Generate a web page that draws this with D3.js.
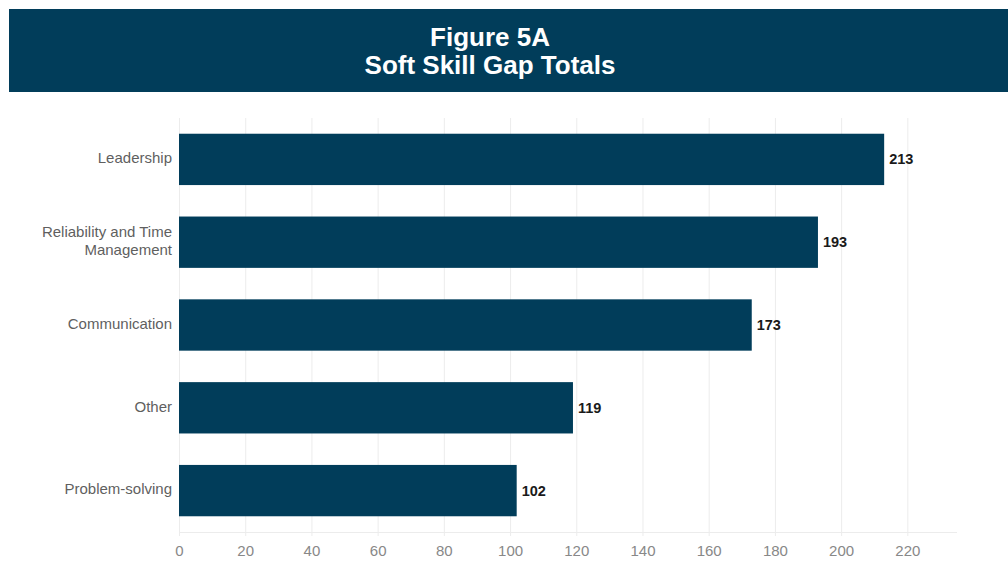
<!DOCTYPE html>
<html>
<head>
<meta charset="utf-8">
<script src="https://cdn.jsdelivr.net/npm/d3@7"></script>
<style>
  body { margin: 0; background: #fff; }
  svg { display: block; font-family: "Liberation Sans", Arial, sans-serif; }
</style>
</head>
<body>
<svg id="drawing_region"></svg>
<script>
// data
const categories = ['Leadership', 'Reliability and Time Management', 'Communication', 'Other', 'Problem-solving'];
const values = [213, 193, 173, 119, 102];
const xTicks = [0, 20, 40, 60, 80, 100, 120, 140, 160, 180, 200, 220];
const titleLines = ['Figure 5A', 'Soft Skill Gap Totals'];

// two-line label split (as wrapped in the original)
const labelLines = {
    'Reliability and Time Management': ['Reliability and Time', 'Management']
};

const data = categories.map((c, i) => ({ label: c, value: values[i] }));

const width = 1008, height = 561;
const margin = { top: 118, right: 51, bottom: 29, left: 179 };
const navy = '#013d5a';

const svg = d3.select('#drawing_region')
    .attr('width', width)
    .attr('height', height);

// title banner
svg.append('rect')
    .attr('x', 9).attr('y', 9)
    .attr('width', width - 9).attr('height', 83)
    .attr('fill', navy);

svg.append('g').selectAll('text')
    .data(titleLines)
    .join('text')
    .attr('x', 490)
    .attr('y', (d, i) => 46 + i * 28)
    .attr('text-anchor', 'middle')
    .attr('fill', '#fff')
    .attr('font-size', 26)
    .attr('font-weight', 'bold')
    .text(d => d);

const inner_width = width - margin.left - margin.right;
const inner_height = height - margin.top - margin.bottom;

const xscale = d3.scaleLinear()
    .domain([0, 235])
    .range([0, inner_width]);

const yscale = d3.scaleBand()
    .domain(categories)
    .range([0, inner_height])
    .paddingInner(0.38)
    .paddingOuter(0.19);

const chart = svg.append('g')
    .attr('transform', `translate(${margin.left}, ${margin.top})`);

// vertical gridlines (run a few px past the baseline)
chart.append('g').selectAll('line')
    .data(xTicks)
    .join('line')
    .attr('x1', d => xscale(d) + 0.5)
    .attr('x2', d => xscale(d) + 0.5)
    .attr('y1', 0)
    .attr('y2', inner_height + 4)
    .attr('stroke', '#ececec');

// bottom baseline
chart.append('line')
    .attr('x1', 0).attr('x2', inner_width)
    .attr('y1', inner_height + 0.5).attr('y2', inner_height + 0.5)
    .attr('stroke', '#ececec');

// bars
chart.selectAll('rect.bar')
    .data(data)
    .join('rect')
    .attr('class', 'bar')
    .attr('x', 0)
    .attr('y', d => yscale(d.label))
    .attr('width', d => xscale(d.value))
    .attr('height', yscale.bandwidth())
    .attr('fill', navy);

// value labels
chart.selectAll('text.val')
    .data(data)
    .join('text')
    .attr('class', 'val')
    .attr('x', d => xscale(d.value) + 5)
    .attr('y', d => yscale(d.label) + yscale.bandwidth() / 2)
    .attr('dy', '0.35em')
    .attr('font-size', 14.5)
    .attr('font-weight', 'bold')
    .attr('fill', '#1a1a1a')
    .text(d => d.value);

// y axis labels
const ylab = chart.append('g').selectAll('text')
    .data(data)
    .join('text')
    .attr('x', -7)
    .attr('y', d => yscale(d.label) + yscale.bandwidth() / 2 - 1.5)
    .attr('text-anchor', 'end')
    .attr('font-size', 15)
    .attr('fill', '#5f5f5f');

ylab.each(function(d) {
    const lines = labelLines[d.label] || [d.label];
    const off = (lines.length - 1) / 2;
    d3.select(this).selectAll('tspan')
        .data(lines)
        .join('tspan')
        .attr('x', -7)
        .attr('dy', (l, i) => i === 0 ? `${0.35 - off * 1.2}em` : '1.2em')
        .text(l => l);
});

// x axis
const xaxis = d3.axisBottom(xscale)
    .tickValues(xTicks)
    .tickSize(0)
    .tickPadding(13);

const xaxis_group = chart.append('g')
    .attr('transform', `translate(0, ${inner_height})`)
    .call(xaxis);

xaxis_group.select('.domain').remove();
xaxis_group.selectAll('text')
    .attr('font-family', '"Liberation Sans", Arial, sans-serif')
    .attr('font-size', 15)
    .attr('fill', '#888');
</script>
</body>
</html>
